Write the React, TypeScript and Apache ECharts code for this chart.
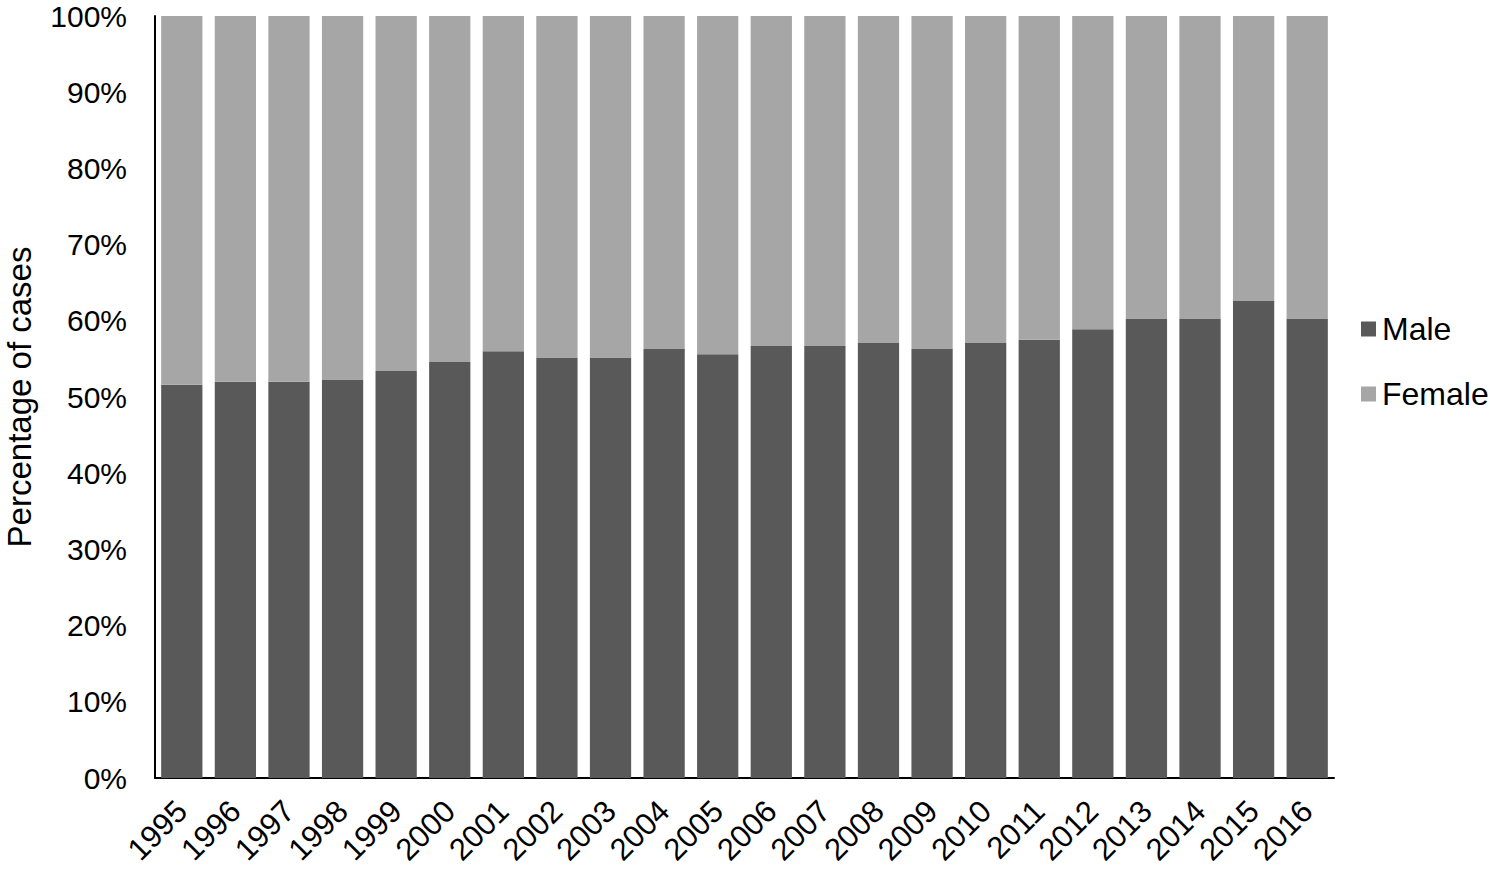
import React, { useEffect, useRef } from "react";
import * as echarts from "echarts";

const years = ["1995","1996","1997","1998","1999","2000","2001","2002","2003","2004","2005","2006","2007","2008","2009","2010","2011","2012","2013","2014","2015","2016"];
const male = [51.6,52.0,52.0,52.3,53.4,54.6,56.0,55.2,55.2,56.3,55.6,56.7,56.7,57.1,56.3,57.1,57.5,58.9,60.3,60.3,62.6,60.3];
const female = male.map((m) => Math.round((100 - m) * 10) / 10);

const FONT = "'Liberation Sans', Arial, sans-serif";

export default function App() {
  const ref = useRef<HTMLDivElement>(null);
  useEffect(() => {
    document.body.style.margin = "0";
    const chart = echarts.init(ref.current!, null, { renderer: "svg" });
    chart.setOption({
      animation: false,
      textStyle: { fontFamily: FONT, color: "#000" },
      grid: { left: 155, right: 156, top: 16, bottom: 93, outerBoundsMode: "none", containLabel: false },
      legend: {
        orient: "vertical",
        left: 1356,
        top: 308,
        itemWidth: 15,
        itemHeight: 15,
        itemGap: 33,
        icon: "rect",
        textStyle: { fontSize: 32, fontFamily: FONT, color: "#000", padding: [0, 0, 0, 1] },
        data: ["Male", "Female"],
      },
      xAxis: {
        type: "category",
        data: years,
        axisLine: { lineStyle: { color: "#000", width: 2 } },
        axisTick: { show: false },
        axisLabel: { rotate: 45, fontSize: 31, color: "#000", fontFamily: FONT, margin: 28, interval: 0 },
      },
      yAxis: {
        type: "value",
        min: 0,
        max: 100,
        interval: 10,
        name: "Percentage of cases",
        nameLocation: "middle",
        nameGap: 119,
        nameTextStyle: { fontSize: 33, color: "#000", fontFamily: FONT },
        axisLine: { show: true, lineStyle: { color: "#000", width: 2 } },
        axisTick: { show: false },
        splitLine: { show: false },
        axisLabel: { formatter: "{value}%", fontSize: 30, lineHeight: 26, color: "#000", fontFamily: FONT, margin: 28 },
      },
      series: [
        {
          name: "Male",
          type: "bar",
          stack: "total",
          data: male,
          barCategoryGap: "23%",
          itemStyle: { color: "#595959" },
        },
        {
          name: "Female",
          type: "bar",
          stack: "total",
          data: female,
          itemStyle: { color: "#a6a6a6" },
        },
      ],
    });
    return () => chart.dispose();
  }, []);
  return <div ref={ref} style={{ width: 1490, height: 871 }} />;
}
